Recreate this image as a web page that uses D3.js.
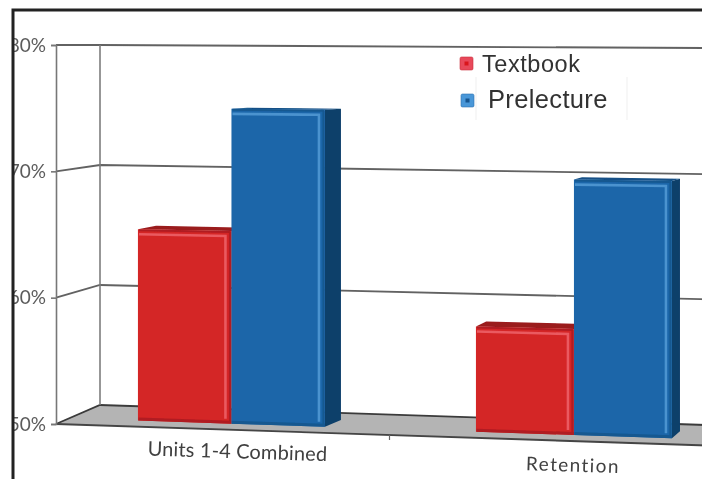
<!DOCTYPE html>
<html>
<head>
<meta charset="utf-8">
<script src="https://cdn.jsdelivr.net/npm/d3@7/dist/d3.min.js"></script>
<style>html,body{margin:0;padding:0;background:#fff}svg{display:block}</style>
</head>
<body>
<svg id="c" width="702" height="479"></svg>
<script>
const categories = ["Units 1-4 Combined", "Retention"];
const seriesNames = ["Textbook", "Prelecture"];
const textbook = [65.3, 58.2];
const prelecture = [75, 69.8];
const yTicks = [50, 60, 70, 80];

const svg = d3.select("#c");
const defs = svg.append("defs");
defs.append("filter").attr("id","soft").attr("x","-5%").attr("y","-5%").attr("width","110%").attr("height","110%")
  .append("feGaussianBlur").attr("stdDeviation",0.6);
defs.append("clipPath").attr("id","inner").append("rect").attr("x",14).attr("y",10).attr("width",688).attr("height",469);

const root = svg.append("g").attr("clip-path","url(#inner)").append("g").attr("filter","url(#soft)");

const X0 = 56, DEPTH = 44;
const yFront = d3.scaleLinear().domain([50,80]).range([424,45]);
const yBack = d3.scaleLinear().domain([50,80]).range([405,45]);
const slope = d3.scaleLinear().domain([50,60,70,80]).range([0.033,0.0235,0.015,0.005]);
const band = d3.scaleBand().domain(categories).range([47,732]);
const widthAt = d3.scaleLinear().domain([218,561]).range([93.5,98]);
const barDepth = d3.scaleLinear().domain([312,660]).range([16,8]);

function project(u, v, d){
  const s = slope(v)*(u-X0);
  return [u+DEPTH*d, (yFront(v)+s)*(1-d) + (yBack(v)+s)*d];
}
const line = d3.line();
const RIGHT = 760;

// floor
const floorPts = [project(X0,50,0),project(X0,50,1),project(RIGHT,50,1),project(RIGHT,50,0)];
root.append("path").attr("d",line(floorPts)+"Z").attr("fill","#b4b4b4");

// back wall and side wall lines
yTicks.forEach(v=>{
  root.append("path").attr("d",line([project(X0,v,0),project(X0,v,1),project(RIGHT,v,1)]))
    .attr("fill","none").attr("stroke",v===50?"#3a3a3a":"#626262").attr("stroke-width",1.8);
});
root.append("path").attr("d",line([project(X0,50,1),project(X0,80,1)]))
  .attr("fill","none").attr("stroke","#7d7d7d").attr("stroke-width",1.6);
root.append("path").attr("d",line([project(X0,50,0),project(RIGHT,50,0)]))
  .attr("fill","none").attr("stroke","#444").attr("stroke-width",1.9);

// value axis
const axis = d3.axisLeft(yFront).tickValues(yTicks).tickFormat(d=>d+"%").tickSize(5).tickPadding(5);
const ag = root.append("g").attr("transform",`translate(${X0},0)`).call(axis);
ag.selectAll("path,line").attr("stroke","#777").attr("stroke-width",1.6);
ag.selectAll("text").attr("font-family","Lato").attr("font-size",19).attr("fill","#5c5c5c");

// category tick
const midU = band(categories[1]);
const tk = project(midU,50,0);
root.append("line").attr("x1",tk[0]).attr("x2",tk[0]).attr("y1",tk[1]).attr("y2",tk[1]+5).attr("stroke","#666").attr("stroke-width",1.2);

// bars
const styles = [
  {front:"#d42527",top:"#9a1a1d",side:"#8f1518",hi:"#ea5a60",lo:"#b01d20"},
  {front:"#1c66a9",top:"#124f86",side:"#0d3f6b",hi:"#4b93cf",lo:"#155890"}
];
const dA = 0.3, dB = 0.66;
function drawBar(cat, i, v, st){
  const c = band(cat)+band.bandwidth()/2, w = widthAt(c);
  const l = i===0 ? c-w : c, r = l+w;
  const fl=project(l,50,dA), fr=project(r,50,dA), tl=project(l,v,dA), tr=project(r,v,dA);
  const dx = barDepth(r);
  const back=(u,val)=>{const p=project(u,val,dB);const f=project(u,val,dA);return [f[0]+dx,p[1]];};
  const bl=back(l,v), br=back(r,v), sb=back(r,50);
  const g = root.append("g");
  g.append("path").attr("d",line([tr,br,sb,fr])+"Z").attr("fill",st.side);
  g.append("path").attr("d",line([tl,bl,br,tr])+"Z").attr("fill",st.top);
  g.append("path").attr("d",line([tl,tr,fr,fl])+"Z").attr("fill",st.front);
  // bevels
  const inset=5;
  g.append("path").attr("d",line([[tl[0]+1,tl[1]+inset],[tr[0]-inset-1,tr[1]+inset],[fr[0]-inset-1,fr[1]-inset]]))
    .attr("fill","none").attr("stroke",st.hi).attr("stroke-width",2.6);
  g.append("path").attr("d",line([[tr[0]-1.5,tr[1]+1],[fr[0]-1.5,fr[1]-2]]))
    .attr("fill","none").attr("stroke",st.lo).attr("stroke-width",2);
  g.append("path").attr("d",line([[fl[0]+0.5,fl[1]-1.5],[fr[0],fr[1]-1.5]]))
    .attr("fill","none").attr("stroke",st.lo).attr("stroke-width",3);
  g.append("path").attr("d",line([[tl[0]+1,tl[1]+1],[tr[0]-1,tr[1]+1]]))
    .attr("fill","none").attr("stroke",st.lo).attr("stroke-width",2);
}
categories.forEach((cat,k)=>{
  drawBar(cat,0,textbook[k],styles[0]);
  drawBar(cat,1,prelecture[k],styles[1]);
});

// category labels
const labelOff = [[19,29],[12,31]];
categories.forEach((cat,k)=>{
  const c = band(cat)+band.bandwidth()/2;
  const p = project(c,50,0);
  root.append("text").text(cat)
    .attr("transform",`translate(${p[0]+labelOff[k][0]},${p[1]+labelOff[k][1]}) rotate(1.8)`)
    .attr("text-anchor","middle").attr("font-family","Lato").attr("font-size",k?19:20)
    .attr("letter-spacing",k?1.4:0.15).attr("fill","#404040");
});

// legend
const legendRows = [
  {x:460,y:57,s:13,tx:482,ty:72,fs:23.5,ls:0.55,fill:"#e8485a",core:"#d9161e",edge:"#c9303c"},
  {x:461,y:94,s:13,tx:488,ty:108,fs:25.5,ls:0.35,fill:"#4a97d8",core:"#14548f",edge:"#2a6fae"}
];
root.append("g").selectAll("line").data([476,627]).join("line")
  .attr("x1",d=>d).attr("x2",d=>d).attr("y1",77).attr("y2",120).attr("stroke","#efefef").attr("stroke-width",1);
legendRows.forEach((o,i)=>{
  root.append("rect").attr("x",o.x).attr("y",o.y).attr("width",o.s).attr("height",o.s).attr("rx",1.5)
    .attr("fill",o.fill).attr("stroke",o.edge).attr("stroke-width",0.6);
  root.append("rect").attr("x",o.x+4.5).attr("y",o.y+4.5).attr("width",o.s-9).attr("height",o.s-9).attr("fill",o.core);
  root.append("text").text(seriesNames[i]).attr("x",o.tx).attr("y",o.ty).attr("letter-spacing",o.ls)
    .attr("font-family","Liberation Sans").attr("font-size",o.fs).attr("fill","#333");
});

// frame
svg.append("path").attr("d","M13,479V10H702").attr("fill","none").attr("stroke","#222").attr("stroke-width",3);
</script>
</body>
</html>
